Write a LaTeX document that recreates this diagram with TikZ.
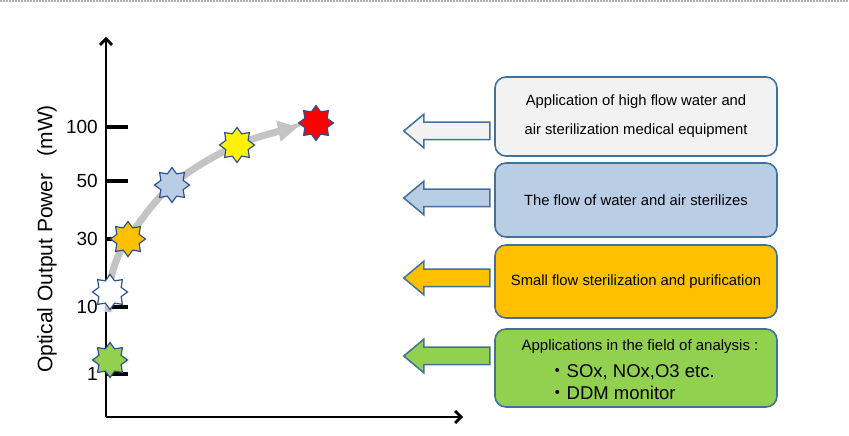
\documentclass[tikz,border=0pt]{standalone}
\usepackage{fontspec}
\setmainfont{Liberation Sans}
\newfontfamily\cjk{Noto Sans CJK JP}
\usetikzlibrary{arrows.meta}
\usetikzlibrary{shapes.geometric}
\usetikzlibrary{shapes.arrows}
\definecolor{frameblue}{HTML}{41719C}
\definecolor{starblue}{HTML}{2F5090}
\definecolor{paleblue}{HTML}{B9CDE5}
\definecolor{paleg}{HTML}{F2F2F2}
\definecolor{amber}{HTML}{FFC000}
\definecolor{leaf}{HTML}{92D050}
\definecolor{flowgray}{HTML}{C4C4C4}
\tikzset{
    appbox/.style={draw=frameblue, line width=1.6pt, rounded corners=11pt,
        minimum width=282pt, align=center, font=\fontsize{14.8}{29}\selectfont},
    backarrow/.style={single arrow, shape border rotate=180, draw=frameblue,
        line width=1.5pt, minimum height=86pt, minimum width=32pt,
        single arrow head extend=8pt, single arrow tip angle=80, inner sep=8pt},
    marker/.style={star, star points=8, star point ratio=1.45, minimum size=35pt,
        inner sep=0pt, draw=starblue, line width=1.2pt},
    axisline/.style={line width=2.8pt},
    ticklabel/.style={anchor=east, font=\fontsize{19}{19}\selectfont, inner sep=0pt}
}
\begin{document}
\begin{tikzpicture}[x=1pt,y=1pt]
    \useasboundingbox (0,0) rectangle (849,436);
    \draw[gray!60, densely dotted, line width=2pt] (0,435) -- (849,435);

    % axes
    \coordinate (O) at (106,19);
    \coordinate (ytop) at (106,399);
    \coordinate (xend) at (463,19);
    \draw[axisline, -{Straight Barb[length=6pt,width=12pt]}] (O) -- (ytop);
    \draw[axisline, -{Straight Barb[length=6pt,width=12pt]}] (O) -- (xend);
    \foreach \v/\y in {100/309,50/255,30/197,10/129,1/62}{
        \draw[line width=3.2pt] (106,\y) -- (128,\y);
        \node[ticklabel] (t\v) at (98,\y) {\v};
    }
    \node[rotate=90, font=\fontsize{21}{21}\selectfont] (ylabel) at (47,197)
        {Optical Output Power\hspace{17pt}(mW)};

    % growth curve
    \draw[flowgray, line width=7pt, -{Triangle[length=20pt,width=20pt]}]
        plot[smooth, tension=0.6] coordinates {(108,124) (112,162) (128,197) (172,251) (237,291) (298,309)};

    \node[marker, fill=leaf] (s1) at (110,76) {};
    \node[marker, fill=white] (s2) at (110,144) {};
    \node[marker, fill=amber] (s3) at (128,197) {};
    \node[marker, fill=paleblue] (s4) at (172,251) {};
    \node[marker, fill=yellow] (s5) at (237,291) {};
    \node[marker, fill=red] (s6) at (316,313) {};

    % application boxes
    \node[appbox, fill=paleg, minimum height=79pt] (high) at (636,319.5)
        {Application of high flow water and\\air sterilization medical equipment};
    \node[appbox, fill=paleblue, minimum height=74pt] (flow) at (636,236)
        {The flow of water and air sterilizes};
    \node[appbox, fill=amber, minimum height=73pt] (small) at (636,154.5)
        {Small flow sterilization and purification};
    \node[appbox, fill=leaf, minimum height=78pt] (anal) at (636,68) {};
    \node[font=\fontsize{15}{15}\selectfont] (analt) at (640,89)
        {Applications in the field of analysis :};
    \node[anchor=west, inner sep=0pt, font=\fontsize{18.5}{18.5}\selectfont] (gas) at (548,64)
        {{\cjk ・}SOx, NOx,O3 etc.};
    \node[anchor=west, inner sep=0pt, font=\fontsize{18.5}{18.5}\selectfont] (ddm) at (548,43)
        {{\cjk ・}DDM monitor};

    % arrows
    \node[backarrow, fill=paleg] (a1) at (452,305) {};
    \node[backarrow, fill=paleblue] (a2) at (452,238) {};
    \node[backarrow, fill=amber] (a3) at (452,158) {};
    \node[backarrow, fill=leaf] (a4) at (452,80) {};
\end{tikzpicture}
\end{document}
